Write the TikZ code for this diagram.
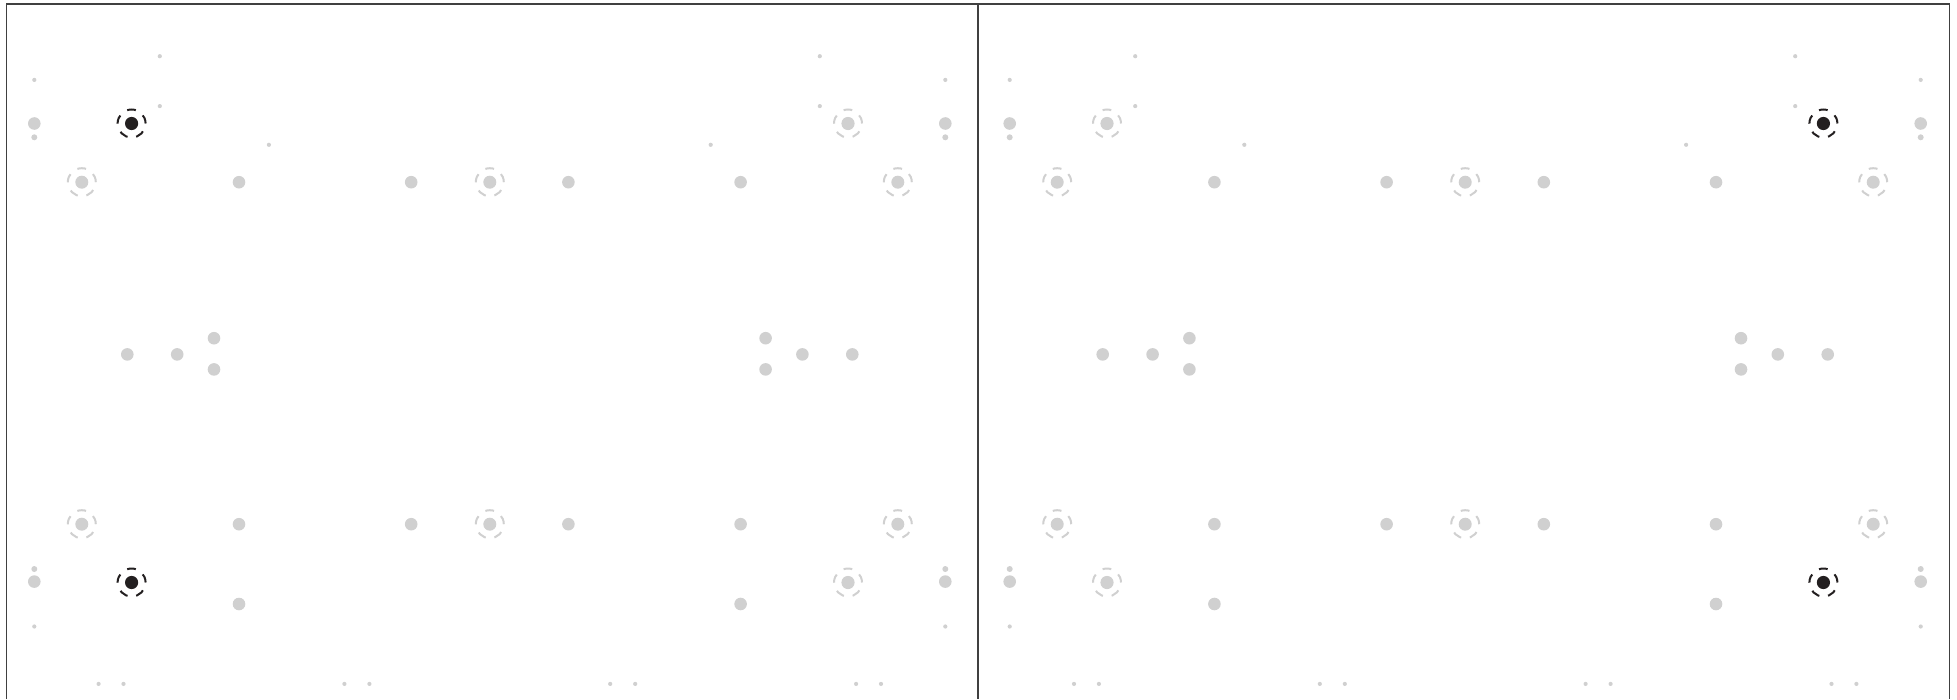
\documentclass[tikz,border=0pt]{standalone}
\definecolor{dotgray}{RGB}{208,208,208}
\definecolor{ink}{RGB}{35,31,32}
\definecolor{framecol}{RGB}{64,64,64}
\tikzset{
  ringline/.style={line width=2pt, dash pattern=on 8.8pt off 8.8pt},
}
\begin{document}
\begin{tikzpicture}[x=1pt,y=-1pt]
    \useasboundingbox (0,0) rectangle (1957,699);
    % Frame, open at the bottom, with the divider
    \draw[framecol, line width=1.4pt] (6.6,699) -- (6.6,3.8) -- (1949.3,3.8) -- (1949.3,699);
    \draw[framecol, line width=1.6pt] (977.7,3.8) -- (977.7,699);
    % Both panels share one layout, mirrored about their centre line
    \foreach \cx/\lside/\rside in {489.8/ink/dotgray, 1465.2/dotgray/ink} {
      % small dots
      \foreach \dx/\y in {330/56.2, 330/106.1, 455.5/79.9, 455.5/626.5, 220.9/144.8,
                          391.2/683.9, 366.3/683.9, 145.4/683.9, 120.4/683.9} {
        \fill[dotgray] (\cx-\dx,\y) circle (2.1pt);
        \fill[dotgray] (\cx+\dx,\y) circle (2.1pt);
      }
      % medium dots
      \foreach \y in {137.3, 569} {
        \fill[dotgray] (\cx-455.5,\y) circle (3pt);
        \fill[dotgray] (\cx+455.5,\y) circle (3pt);
      }
      % large dots
      \foreach \dx/\y in {455.5/123.5, 455.5/581.6, 250.8/182.2, 78.6/182.2,
                          250.8/524.2, 78.6/524.2, 250.8/604,
                          275.8/338.2, 275.8/369.4, 312.6/354.4, 362.5/354.4} {
        \fill[dotgray] (\cx-\dx,\y) circle (6.3pt);
        \fill[dotgray] (\cx+\dx,\y) circle (6.3pt);
      }
      % ringed dots
      \foreach \dx/\y in {-408/182.2, 0/182.2, 408/182.2, -408/524.2, 0/524.2, 408/524.2} {
        \fill[dotgray] (\cx+\dx,\y) circle (6.5pt);
        \draw[dotgray, ringline] (\cx+\dx,\y) circle (14pt);
      }
      % corner rings, dark on one side only
      \fill[\lside] (\cx-358.2,123.5) circle (6.6pt);
      \draw[\lside, ringline] (\cx-358.2,123.5) circle (14pt);
      \fill[\rside] (\cx+358.2,123.5) circle (6.6pt);
      \draw[\rside, ringline] (\cx+358.2,123.5) circle (14pt);
      \fill[\lside] (\cx-358.2,582.5) circle (6.6pt);
      \draw[\lside, ringline] (\cx-358.2,582.5) circle (14pt);
      \fill[\rside] (\cx+358.2,582.5) circle (6.6pt);
      \draw[\rside, ringline] (\cx+358.2,582.5) circle (14pt);
    }
\end{tikzpicture}
\end{document}
